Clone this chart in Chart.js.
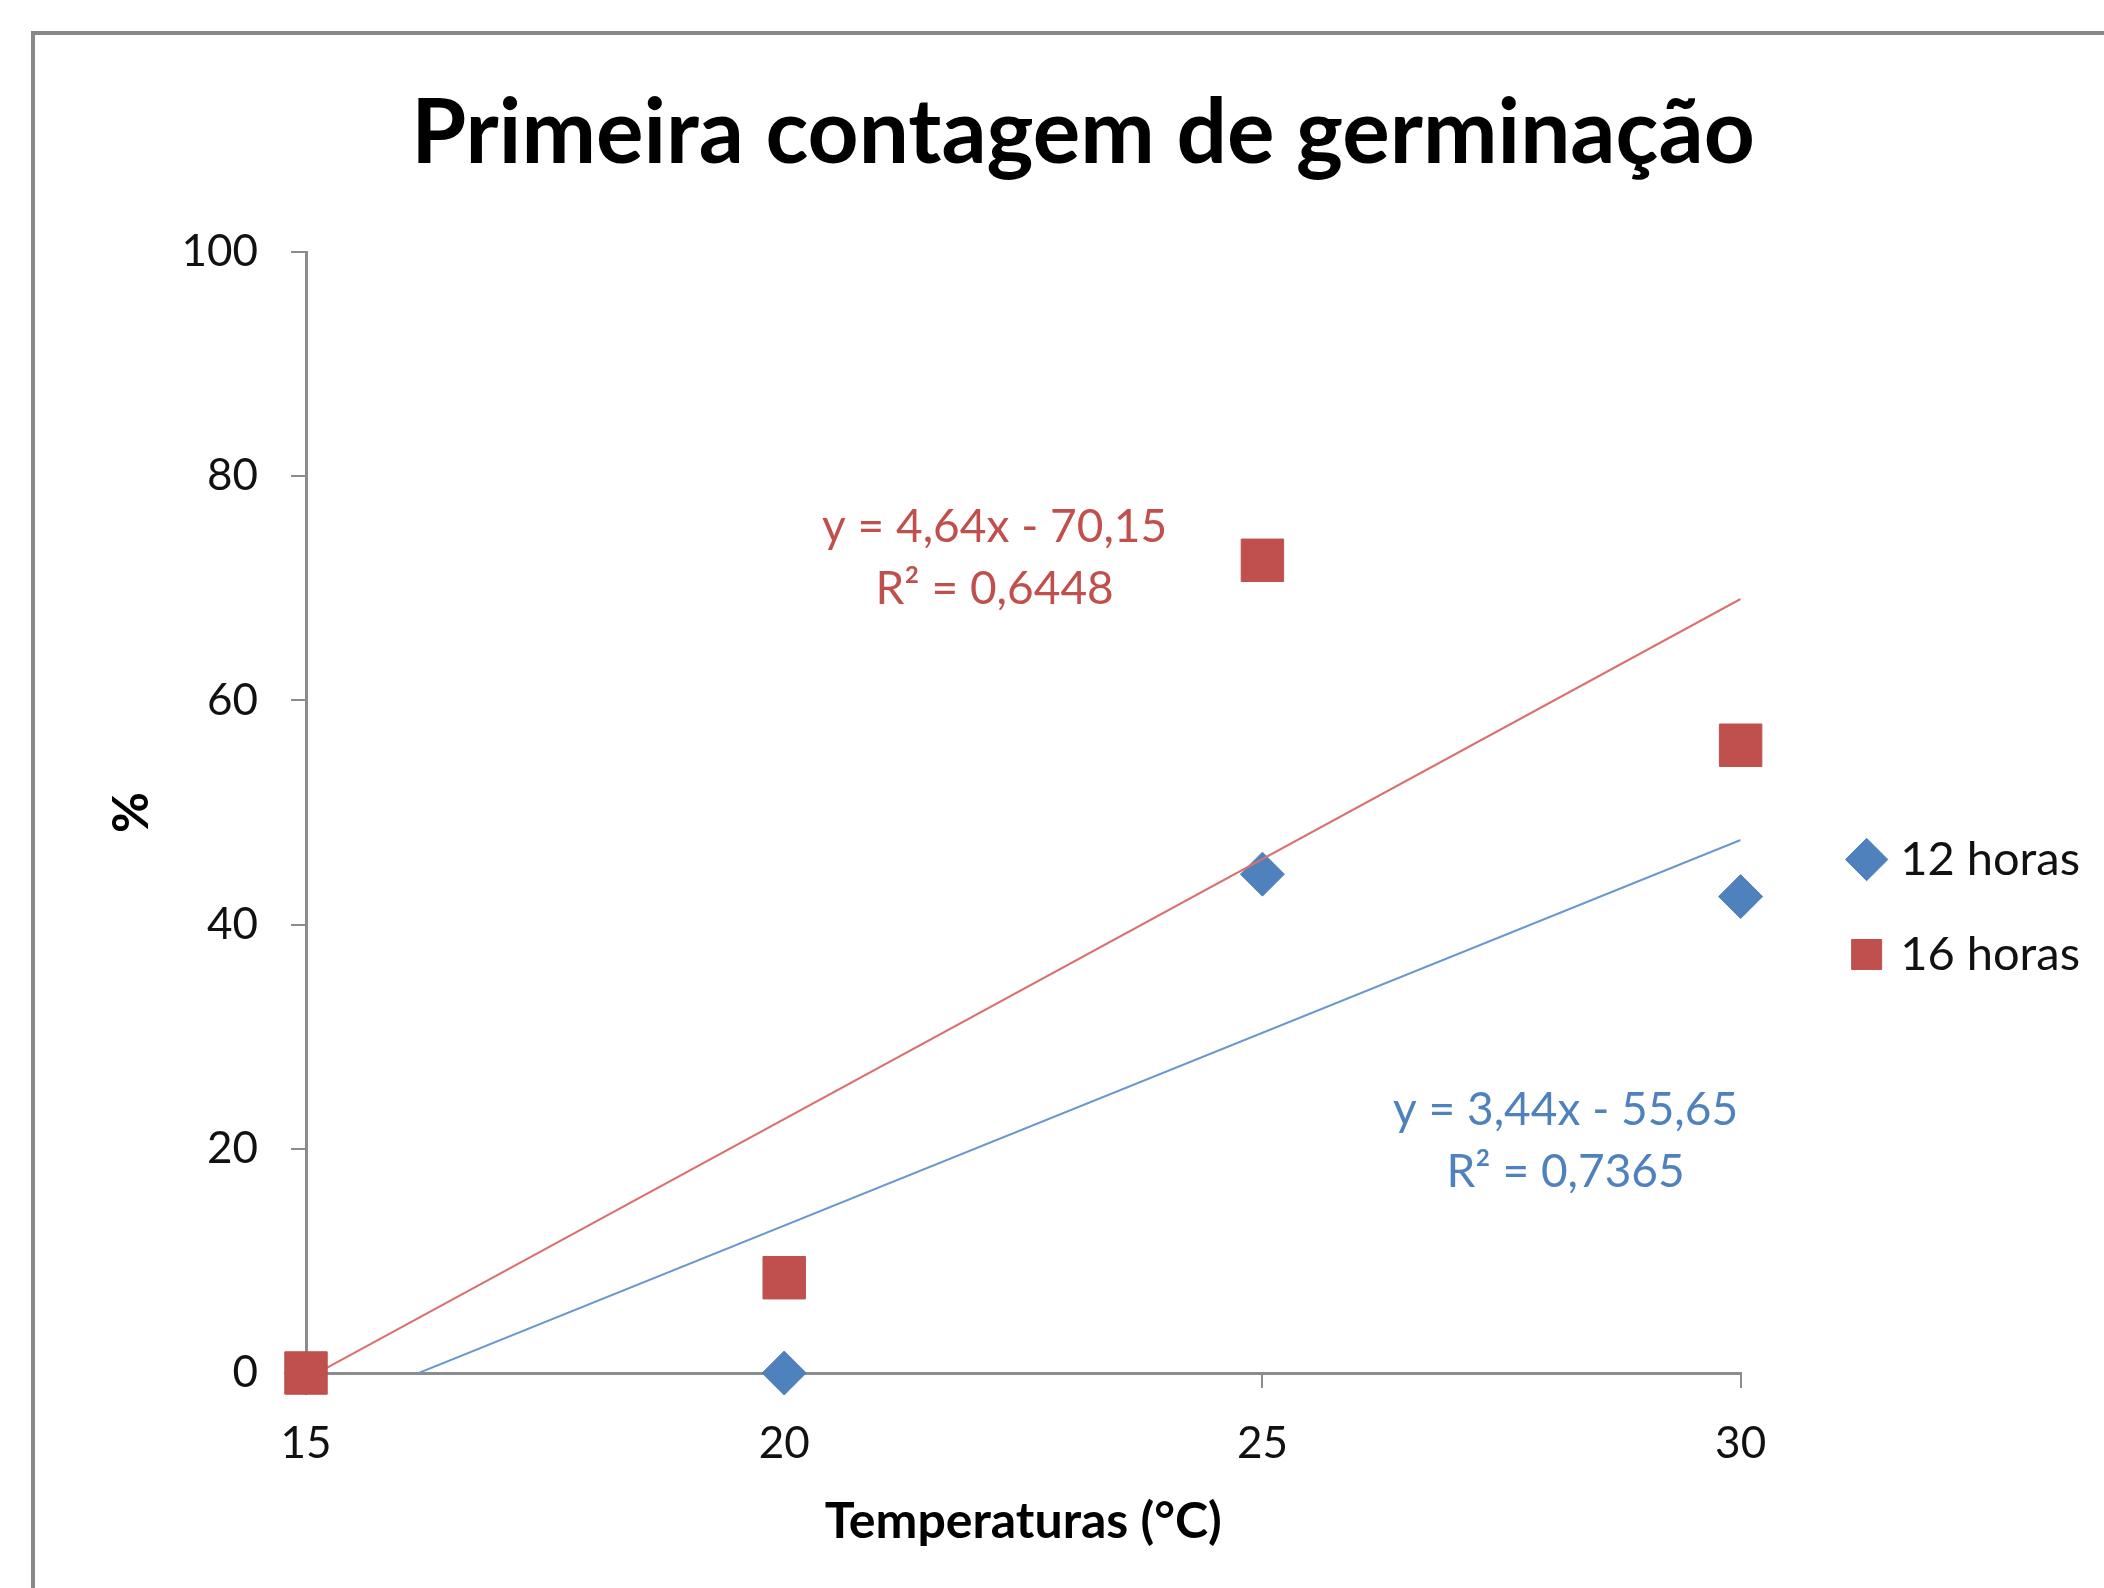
<!DOCTYPE html>
<html>
<head>
<meta charset="utf-8">
<title>Primeira contagem de germinação</title>
<script src="https://cdn.jsdelivr.net/npm/chart.js@4.4.1/dist/chart.umd.min.js"></script>
<style>
  html, body { margin: 0; padding: 0; background: #fff; overflow: hidden; }
  #wrap { position: relative; width: 2104px; height: 1588px; }
  #frame { position: absolute; left: 31px; top: 31px; width: 2300px; height: 1800px;
           border-top: 4px solid #888; border-left: 4px solid #888; }
  canvas { position: absolute; left: 0; top: 0; }
</style>
</head>
<body>
<div id="wrap">
  <div id="frame"></div>
  <canvas id="germChart" width="2104" height="1588"></canvas>
</div>
<script>
// values
const temperatures = [15, 20, 25, 30];
const horas12 = [0, 0, 44.5, 42.5];
const horas16 = [0, 8.5, 72.5, 56];
const seriesNames = ['12 horas', '16 horas'];

// linear trendlines, ends at x = 15 and x = 30
const trendX = [15, 30];
const trend12 = [-4.05, 47.55];
const trend16 = [-0.55, 69.05];

const eqText12 = ['y = 3,44x - 55,65', 'R² = 0,7365'];
const eqText16 = ['y = 4,64x - 70,15', 'R² = 0,6448'];
const eqAnchor12 = [28.17, 20.7];
const eqAnchor16 = [22.2, 72.7];

const xTicks = [15, 20, 25, 30];
const yTicks = [0, 20, 40, 60, 80, 100];

const blue = '#4F81BD';
const red = '#C0504D';
const axisGray = '#8c8c8c';

Chart.defaults.font.family = 'Lato';

const toPoints = (xs, ys) => xs.map((x, i) => ({ x: x, y: ys[i] }));

// draws the two regression equations next to their lines
const trendLabels = {
    id: 'trendLabels',
    afterDatasetsDraw(chart) {
        const { ctx, scales } = chart;
        ctx.save();
        ctx.font = '46px Lato';
        ctx.textAlign = 'center';
        ctx.textBaseline = 'middle';
        [[eqText16, eqAnchor16, red], [eqText12, eqAnchor12, blue]].forEach(([lines, pos, color]) => {
            const px = scales.x.getPixelForValue(pos[0]);
            const py = scales.y.getPixelForValue(pos[1]);
            ctx.fillStyle = color;
            ctx.fillText(lines[0], px, py - 31);
            ctx.fillText(lines[1], px, py + 31);
        });
        ctx.restore();
    }
};

new Chart(document.getElementById('germChart'), {
    type: 'scatter',
    data: {
        datasets: [
            {
                label: seriesNames[0],
                data: toPoints(temperatures, horas12),
                pointStyle: 'rectRot',
                pointRadius: 22,
                backgroundColor: blue,
                borderColor: blue,
                borderWidth: 1,
                clip: false,
                order: 3
            },
            {
                label: seriesNames[1],
                data: toPoints(temperatures, horas16),
                pointStyle: 'rect',
                pointRadius: 30,
                backgroundColor: red,
                borderColor: red,
                borderWidth: 1,
                clip: false,
                order: 0
            },
            {
                label: 'trend12',
                type: 'line',
                data: toPoints(trendX, trend12),
                borderColor: '#6a98cf',
                borderWidth: 2,
                pointRadius: 0,
                fill: false,
                order: 2
            },
            {
                label: 'trend16',
                type: 'line',
                data: toPoints(trendX, trend16),
                borderColor: '#d9706e',
                borderWidth: 2,
                pointRadius: 0,
                fill: false,
                order: 1
            }
        ]
    },
    options: {
        responsive: false,
        animation: false,
        events: [],
        layout: { padding: { left: 76, right: 14, top: 0, bottom: 0 } },
        plugins: {
            title: {
                display: true,
                text: 'Primeira contagem de germinação',
                color: '#000',
                font: { family: 'Lato', size: 89, weight: 'bold' },
                padding: { top: 80.6, bottom: 64.6 }
            },
            legend: {
                position: 'right',
                title: { display: true, text: ' ', font: { size: 10 }, padding: { top: 0, bottom: 214 } },
                labels: {
                    usePointStyle: true,
                    boxWidth: 20,
                    boxHeight: 30,
                    padding: 48,
                    color: '#111',
                    font: { family: 'Lato', size: 47 },
                    filter: item => item.datasetIndex < 2,
                    sort: (a, b) => a.datasetIndex - b.datasetIndex
                }
            },
            tooltip: { enabled: false }
        },
        scales: {
            x: {
                type: 'linear',
                position: 'bottom',
                min: 15,
                max: 30,
                afterBuildTicks: scale => { scale.ticks = xTicks.map(v => ({ value: v })); },
                afterFit: scale => { scale.height = 1588 - 1373; },
                grid: { drawOnChartArea: false, drawTicks: true, tickLength: 15, color: axisGray, lineWidth: 2 },
                border: { color: axisGray, width: 3 },
                ticks: { color: '#111', padding: 29, font: { family: 'Lato', size: 44 } },
                title: {
                    display: true,
                    text: 'Temperaturas (°C)',
                    color: '#000',
                    font: { family: 'Lato', size: 50, weight: 'bold' },
                    padding: { top: 0, bottom: 36 }
                }
            },
            y: {
                type: 'linear',
                position: 'left',
                min: 0,
                max: 100,
                afterBuildTicks: scale => { scale.ticks = yTicks.map(v => ({ value: v })); },
                afterFit: scale => { scale.width = 306 - 76; },
                grid: { drawOnChartArea: false, drawTicks: true, tickLength: 15, color: axisGray, lineWidth: 2 },
                border: { color: axisGray, width: 3 },
                ticks: { color: '#111', padding: 33, font: { family: 'Lato', size: 44 } },
                title: {
                    display: true,
                    text: '%',
                    color: '#000',
                    font: { family: 'Lato', size: 50, weight: 'bold' },
                    padding: { top: 26, bottom: 0 }
                }
            },
            // empty axis that only keeps the legend away from the plot
            gap: {
                type: 'linear',
                position: 'right',
                display: true,
                grid: { display: false },
                border: { display: false },
                ticks: { display: false },
                afterFit: scale => { scale.width = 68; }
            }
        }
    },
    plugins: [trendLabels]
});
</script>
</body>
</html>
